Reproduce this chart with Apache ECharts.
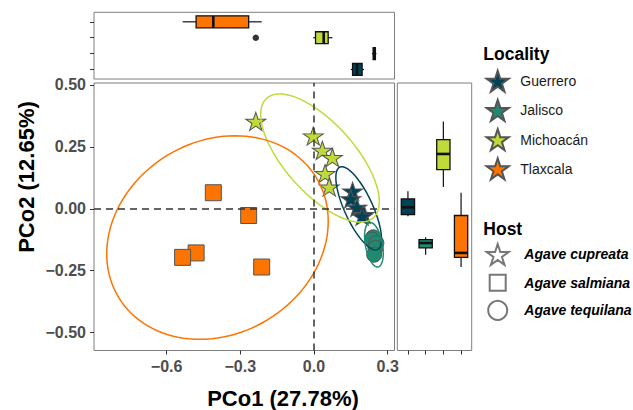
<!DOCTYPE html>
<html><head><meta charset="utf-8">
<script src="https://cdn.jsdelivr.net/npm/echarts@6/dist/echarts.min.js"></script>
<style>html,body{margin:0;padding:0;background:#fff}#c{width:633px;height:410px}</style>
</head><body><div id="c"></div>
<script>
// ---------------- data ----------------
const localities = ['Guerrero', 'Jalisco', 'Michoacán', 'Tlaxcala'];
const hosts = ['Agave cupreata', 'Agave salmiana', 'Agave tequilana'];
const localityHost = ['Agave cupreata', 'Agave tequilana', 'Agave cupreata', 'Agave salmiana'];

const guerreroPCo1 = [0.157, 0.150, 0.175, 0.204, 0.196];
const guerreroPCo2 = [0.071, 0.040, 0.006, -0.023, -0.030];
const jaliscoPCo1 = [0.241, 0.236, 0.254, 0.250, 0.245];
const jaliscoPCo2 = [-0.115, -0.124, -0.138, -0.158, -0.185];
const michoacanPCo1 = [-0.237, -0.003, 0.034, 0.075, 0.045, 0.062];
const michoacanPCo2 = [0.353, 0.294, 0.236, 0.207, 0.142, 0.088];
const tlaxcalaPCo1 = [-0.410, -0.266, -0.480, -0.535, -0.213];
const tlaxcalaPCo2 = [0.065, -0.027, -0.178, -0.196, -0.235];

// ellipse estimates: [centre PCo1, centre PCo2, sd PCo1, sd PCo2, correlation]
const guerreroEllipse = [0.182, 0.002, 0.093, 0.168, -0.74];
const jaliscoEllipse = [0.244, -0.145, 0.038, 0.090, -0.38];
const michoacanEllipse = [0.0244, 0.205, 0.2415, 0.2587, -0.68];
const tlaxcalaEllipse = [-0.393, -0.116, 0.451, 0.411, 0.16];

const xTicks = [-0.6, -0.3, 0, 0.3];
const xTickLabels = ['\u22120.6', '\u22120.3', '0.0', '0.3'];
const yTicks = [-0.5, -0.25, 0, 0.25, 0.5];
const yTickLabels = ['\u22120.50', '\u22120.25', '0.00', '0.25', '0.50'];
const xTitle = 'PCo1 (27.78%)';
const yTitle = 'PCo2 (12.65%)';
const legendTitle1 = 'Locality';
const legendTitle2 = 'Host';

// ---------------- styling ----------------
const colors = ['#004358', '#1F8A70', '#BEDB39', '#FD7400'];
const FONT = 'Liberation Sans, Arial, Helvetica, sans-serif';
const STAR = 'path://M50 0 L61.23 34.55 L97.55 34.55 L68.17 55.9 L79.39 90.45 L50 69.1 L20.61 90.45 L31.83 55.9 L2.45 34.55 L38.77 34.55 Z';
const hostSymbol = {'Agave cupreata': STAR, 'Agave salmiana': 'rect', 'Agave tequilana': 'circle'};
const hostSize = {'Agave cupreata': [20, 19], 'Agave salmiana': 16, 'Agave tequilana': 15};

const pco1 = [guerreroPCo1, jaliscoPCo1, michoacanPCo1, tlaxcalaPCo1];
const pco2 = [guerreroPCo2, jaliscoPCo2, michoacanPCo2, tlaxcalaPCo2];
const ellipses = [guerreroEllipse, jaliscoEllipse, michoacanEllipse, tlaxcalaEllipse];

const X_MIN = -0.8958, X_MAX = 0.3278, Y_MIN = -0.572, Y_MAX = 0.508;

// ---------------- helpers ----------------
function quantile(sorted, p) {
  const h = (sorted.length - 1) * p, lo = Math.floor(h), hi = Math.ceil(h);
  return sorted[lo] + (h - lo) * (sorted[hi] - sorted[lo]);
}
function boxStats(vals) {
  const s = vals.slice().sort((a, b) => a - b);
  const q1 = quantile(s, 0.25), med = quantile(s, 0.5), q3 = quantile(s, 0.75);
  const iqr = q3 - q1, lf = q1 - 1.5 * iqr, uf = q3 + 1.5 * iqr;
  const inside = s.filter(v => v >= lf && v <= uf);
  return {lo: inside[0], q1, med, q3, hi: inside[inside.length - 1], out: s.filter(v => v < lf || v > uf)};
}
function ellipsePoints(e) {
  const [cx, cy, sx, sy, r] = e, pts = [], n = 120, k = Math.sqrt(1 - r * r);
  for (let i = 0; i <= n; i++) {
    const t = 2 * Math.PI * i / n;
    pts.push([cx + sx * Math.cos(t), cy + sy * (r * Math.cos(t) + k * Math.sin(t))]);
  }
  return pts;
}
function tickFmt(ticks, labels) {
  return v => { for (let i = 0; i < ticks.length; i++) if (Math.abs(ticks[i] - v) < 1e-9) return labels[i]; return ''; };
}

const topBoxData = [], rightBoxData = [], topOut = [], rightOut = [];
for (let i = 0; i < 4; i++) {
  const a = boxStats(pco1[i]), b = boxStats(pco2[i]);
  topBoxData.push([i + 1, a.lo, a.q1, a.med, a.q3, a.hi, i]);
  rightBoxData.push([i + 1, b.lo, b.q1, b.med, b.q3, b.hi, i]);
  a.out.forEach(v => topOut.push([v, i + 1]));
  b.out.forEach(v => rightOut.push([i + 1, v]));
}

function boxRenderer(horizontal) {
  return function (params, api) {
    const cat = api.value(0), lo = api.value(1), q1 = api.value(2), med = api.value(3), q3 = api.value(4), hi = api.value(5);
    const col = colors[api.value(6)];
    const half = 0.375;
    const P = (v, c) => horizontal ? api.coord([v, c]) : api.coord([c, v]);
    const ln = (p1, p2, w) => ({type: 'line', shape: {x1: p1[0], y1: p1[1], x2: p2[0], y2: p2[1]}, style: {stroke: '#111', lineWidth: w}});
    const a = P(q1, cat - half), b = P(q3, cat + half);
    return {type: 'group', children: [
      ln(P(lo, cat), P(q1, cat), 1.2),
      ln(P(q3, cat), P(hi, cat), 1.2),
      {type: 'rect', shape: {x: Math.min(a[0], b[0]), y: Math.min(a[1], b[1]), width: Math.abs(b[0] - a[0]), height: Math.abs(b[1] - a[1])},
       style: {fill: col, stroke: '#111', lineWidth: 1.3}},
      ln(P(med, cat - half), P(med, cat + half), 2.6)
    ]};
  };
}

const tickStyle = {show: true, length: 4, lineStyle: {color: '#333', width: 1}};
const noLine = {show: false, onZero: false};
const labelStyle = {fontSize: 16, fontWeight: 'bold', color: '#4d4d4d', fontFamily: FONT};
const gridStyle = {show: true, borderColor: '#7f7f7f', borderWidth: 1, backgroundColor: 'transparent'};

const series = [];
// reference dashed lines
series.push({type: 'line', xAxisIndex: 0, yAxisIndex: 0, data: [], z: 1, silent: true,
  markLine: {silent: true, symbol: ['none', 'none'], label: {show: false},
    lineStyle: {type: [7, 5], color: '#333', width: 1.5},
    data: [{xAxis: 0}, {yAxis: 0}]}});
// points
for (let i = 0; i < 4; i++) {
  const h = localityHost[i];
  series.push({type: 'scatter', name: localities[i], xAxisIndex: 0, yAxisIndex: 0, z: 2,
    symbol: hostSymbol[h], symbolSize: hostSize[h], symbolKeepAspect: true,
    itemStyle: {color: colors[i], borderColor: '#555', borderWidth: 1, opacity: 1},
    data: pco1[i].map((v, j) => [v, pco2[i][j]])});
}
// ellipses
for (let i = 0; i < 4; i++) {
  series.push({type: 'line', xAxisIndex: 0, yAxisIndex: 0, z: 3, silent: true, showSymbol: false, symbol: 'none',
    lineStyle: {color: colors[i], width: 1.5}, data: ellipsePoints(ellipses[i])});
}
// host legend dummies
hosts.forEach(h => series.push({type: 'scatter', name: h, xAxisIndex: 0, yAxisIndex: 0, data: [],
  symbol: hostSymbol[h], symbolKeepAspect: true, itemStyle: {color: '#fff', borderColor: '#555', borderWidth: 1}}));
// marginal boxplots
series.push({type: 'custom', xAxisIndex: 1, yAxisIndex: 1, renderItem: boxRenderer(true), data: topBoxData, silent: true, clip: false});
series.push({type: 'custom', xAxisIndex: 2, yAxisIndex: 2, renderItem: boxRenderer(false), data: rightBoxData, silent: true, clip: false});
series.push({type: 'scatter', xAxisIndex: 1, yAxisIndex: 1, data: topOut, symbolSize: 6.5, itemStyle: {color: '#000'}, silent: true});
series.push({type: 'scatter', xAxisIndex: 2, yAxisIndex: 2, data: rightOut, symbolSize: 6.5, itemStyle: {color: '#000'}, silent: true});

const legendText = {fontSize: 14, color: '#1a1a1a', fontFamily: FONT};
const hostText = {fontSize: 14, color: '#000', fontFamily: FONT, fontWeight: 'bold', fontStyle: 'italic'};

const option = {
  animation: false,
  backgroundColor: '#fff',
  grid: [
    Object.assign({left: 94, top: 83, width: 300.5, height: 267.5}, gridStyle),
    Object.assign({left: 94, top: 12.3, width: 300.5, height: 66.7}, gridStyle),
    Object.assign({left: 397.3, top: 83, width: 74.4, height: 267.5}, gridStyle)
  ],
  xAxis: [
    {gridIndex: 0, type: 'value', position: 'bottom', min: X_MIN, max: X_MAX, axisLine: noLine, splitLine: {show: false},
     axisTick: Object.assign({customValues: xTicks}, tickStyle),
     axisLabel: Object.assign({customValues: xTicks, formatter: tickFmt(xTicks, xTickLabels), margin: 8}, labelStyle)},
    {gridIndex: 1, type: 'value', position: 'bottom', min: X_MIN, max: X_MAX, axisLine: noLine, splitLine: {show: false},
     axisTick: {show: false}, axisLabel: {show: false}},
    {gridIndex: 2, type: 'value', position: 'bottom', min: 0.4, max: 4.6, axisLine: noLine, splitLine: {show: false},
     axisTick: Object.assign({customValues: [1, 2, 3, 4]}, tickStyle), axisLabel: {show: false}}
  ],
  yAxis: [
    {gridIndex: 0, type: 'value', position: 'left', min: Y_MIN, max: Y_MAX, axisLine: noLine, splitLine: {show: false},
     axisTick: Object.assign({customValues: yTicks}, tickStyle),
     axisLabel: Object.assign({customValues: yTicks, formatter: tickFmt(yTicks, yTickLabels), margin: 8}, labelStyle)},
    {gridIndex: 1, type: 'value', position: 'left', min: 0.4, max: 4.6, axisLine: noLine, splitLine: {show: false},
     axisTick: Object.assign({customValues: [1, 2, 3, 4]}, tickStyle), axisLabel: {show: false}},
    {gridIndex: 2, type: 'value', position: 'left', min: Y_MIN, max: Y_MAX, axisLine: noLine, splitLine: {show: false},
     axisTick: {show: false}, axisLabel: {show: false}}
  ],
  legend: [
    {orient: 'vertical', left: 485.7, top: 69.7, padding: 0, itemWidth: 22, itemHeight: 22, itemGap: 6.3,
     selectedMode: false, textStyle: Object.assign({padding: [0, 0, 0, 6.6]}, legendText),
     data: localities.map(n => ({name: n, icon: STAR}))},
    {orient: 'vertical', left: 485.7, top: 243, padding: 0, itemWidth: 22, itemHeight: 22,
     selectedMode: false, textStyle: Object.assign({padding: [0, 0, 0, 10.6]}, hostText),
     data: [{name: hosts[0], icon: STAR}]},
    {orient: 'vertical', left: 488.7, top: 273.7, padding: 0, itemWidth: 16, itemHeight: 16,
     selectedMode: false, textStyle: Object.assign({padding: [0, 0, 0, 13.6]}, hostText),
     data: [{name: hosts[1], icon: 'rect'}]},
    {orient: 'vertical', left: 487.2, top: 299.8, padding: 0, itemWidth: 19, itemHeight: 19,
     selectedMode: false, textStyle: Object.assign({padding: [0, 0, 0, 12.1]}, hostText),
     data: [{name: hosts[2], icon: 'circle'}]}
  ],
  graphic: [
    {type: 'text', x: 283, y: 398, silent: true,
     style: {text: xTitle, font: 'bold 22px ' + FONT, fill: '#000', textAlign: 'center', textVerticalAlign: 'middle', align: 'center', verticalAlign: 'middle'}},
    {type: 'text', x: 26.7, y: 177, rotation: Math.PI / 2, silent: true,
     style: {text: yTitle, font: 'bold 22px ' + FONT, fill: '#000', textAlign: 'center', textVerticalAlign: 'middle', align: 'center', verticalAlign: 'middle'}},
    {type: 'text', x: 483.3, y: 54, silent: true,
     style: {text: legendTitle1, font: 'bold 17.5px ' + FONT, fill: '#000', textAlign: 'left', textVerticalAlign: 'middle', align: 'left', verticalAlign: 'middle'}},
    {type: 'text', x: 483.3, y: 229, silent: true,
     style: {text: legendTitle2, font: 'bold 17.5px ' + FONT, fill: '#000', textAlign: 'left', textVerticalAlign: 'middle', align: 'left', verticalAlign: 'middle'}}
  ],
  series: series
};
const chart = echarts.init(document.getElementById('c'), null, {renderer: 'svg'});
chart.setOption(option);
</script>
</body></html>
